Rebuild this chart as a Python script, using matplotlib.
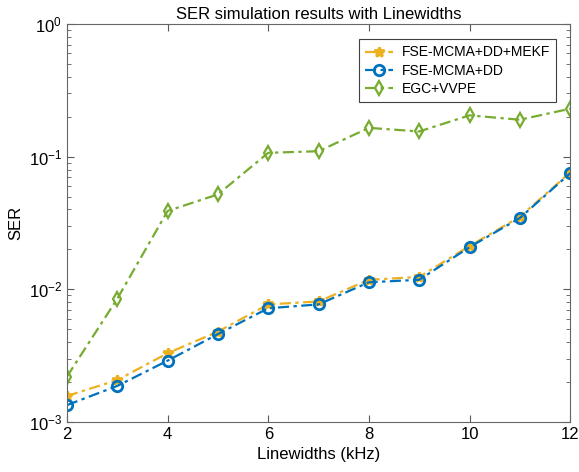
import numpy as np
import matplotlib.pyplot as plt
from matplotlib.ticker import LogLocator, FixedLocator

plt.rcParams['font.family'] = ['Liberation Sans', 'DejaVu Sans']

# Data
linewidths = [2, 3, 4, 5, 6, 7, 8, 9, 10, 11, 12]
ser_mekf = [0.00157, 0.00207, 0.0033, 0.0048, 0.0077, 0.0081, 0.0118, 0.0124, 0.0212, 0.0352, 0.076]
ser_dd = [0.00134, 0.00187, 0.0029, 0.0046, 0.0072, 0.0077, 0.0113, 0.0118, 0.0208, 0.0345, 0.075]
ser_egc = [0.0022, 0.0085, 0.039, 0.052, 0.107, 0.11, 0.165, 0.155, 0.205, 0.19, 0.23]

fig = plt.figure(figsize=(5.79, 4.72), dpi=100)
ax = fig.add_axes([0.1157, 0.106, 0.869, 0.843])

dash = (5, 2, 1.5, 2)
ax.semilogy(linewidths, ser_mekf, color='#EDB120', marker='*', markersize=7,
            markeredgewidth=2, linewidth=1.6, dashes=dash, label='FSE-MCMA+DD+MEKF')
ax.semilogy(linewidths, ser_dd, color='#0072BD', marker='o', markersize=7.5,
            markerfacecolor='none', markeredgewidth=2, linewidth=1.6, dashes=dash,
            label='FSE-MCMA+DD')
ax.semilogy(linewidths, ser_egc, color='#77AC30', marker='d', markersize=7,
            markerfacecolor='none', markeredgewidth=1.6, linewidth=1.6, dashes=dash,
            label='EGC+VVPE')

ax.set_xlim(2, 12)
ax.set_ylim(1e-3, 1)
ax.xaxis.set_major_locator(FixedLocator([2, 4, 6, 8, 10, 12]))
ax.yaxis.set_major_locator(LogLocator(base=10))
ax.yaxis.set_minor_locator(LogLocator(base=10, subs=np.arange(2, 10)))

ax.tick_params(which='both', direction='in', top=True, right=True, colors='0.35',
               labelcolor='black', labelsize=12)
ax.tick_params(which='major', length=5)
ax.tick_params(which='minor', length=3)
for s in ax.spines.values():
    s.set_color('0.4')
    s.set_linewidth(0.8)

ax.set_xlabel('Linewidths (kHz)', fontsize=12)
ax.set_ylabel('SER', fontsize=12)
ax.set_title('SER simulation results with Linewidths', fontsize=12, pad=4)

leg = ax.legend(loc='upper right', bbox_to_anchor=(0.972, 0.962), borderaxespad=0,
                fontsize=10, fancybox=False, edgecolor='0.25', framealpha=1,
                handlelength=2.0, handletextpad=0.6, borderpad=0.45, labelspacing=0.3)
leg.get_frame().set_linewidth(0.8)

fig.savefig('out.png', dpi=100)
